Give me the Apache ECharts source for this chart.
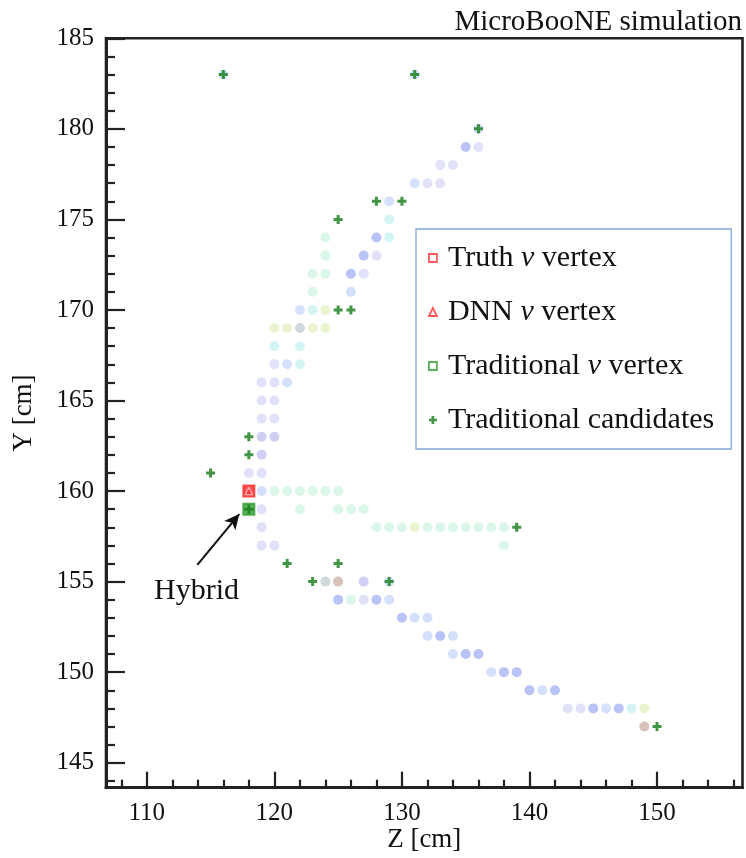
<!DOCTYPE html>
<html>
<head>
<meta charset="utf-8">
<title>MicroBooNE simulation - vertex</title>
<script src="https://cdn.jsdelivr.net/npm/echarts@6/dist/echarts.min.js"></script>
<style>
  html, body { margin: 0; padding: 0; background: #fff; }
  #chart { width: 746px; height: 858px; }
</style>
</head>
<body>
<div id="chart"></div>
<script>
// wire hits [Z, Y] in cm, grouped by the colour they show with
const blueHits = [[135, 179], [128, 174], [127, 173], [126, 172], [125, 154], [128, 154], [130, 153], [133, 152], [135, 151], [136, 151], [138, 150], [139, 150], [140, 149], [142, 149], [145, 148], [147, 148]]
const skyHits = [[116, 183], [131, 183], [136, 180], [131, 177], [129, 176], [126, 171], [122, 170], [121, 166], [121, 167], [119, 160], [129, 154], [131, 153], [132, 153], [132, 152], [134, 152], [134, 151], [137, 150], [141, 149], [146, 148], [129, 155]]
const lavenderHits = [[136, 179], [133, 178], [134, 178], [132, 177], [133, 177], [128, 173], [127, 172], [120, 167], [119, 166], [120, 166], [119, 165], [120, 165], [119, 164], [120, 164], [118, 161], [119, 161], [119, 159], [119, 158], [119, 157], [120, 157], [127, 154], [143, 148], [144, 148]]
const violetHits = [[119, 163], [120, 163], [119, 162], [127, 155]]
const cyanHits = [[129, 175], [129, 174], [123, 170], [120, 168], [122, 168], [122, 167], [148, 148]]
const mintHits = [[124, 174], [124, 173], [123, 172], [124, 172], [123, 171], [120, 160], [121, 160], [122, 160], [123, 160], [124, 160], [125, 160], [122, 159], [125, 159], [126, 159], [127, 159], [128, 158], [129, 158], [130, 158], [132, 158], [133, 158], [134, 158], [135, 158], [136, 158], [137, 158], [138, 158], [138, 157], [126, 154]]
const yellowHits = [[124, 170], [120, 169], [121, 169], [123, 169], [124, 169], [131, 158], [149, 148]]
const grayHits = [[122, 169], [124, 155]]
const brownHits = [[125, 155], [149, 147]]

// vertices
const truthVertex = [[118, 160]]
const dnnVertex = [[118, 160]]
const tradVertex = [[118, 159]]
const tradCandidates = [[116, 183], [131, 183], [136, 180], [128, 176], [130, 176], [125, 175], [125, 170], [126, 170], [118, 163], [118, 162], [115, 161], [118, 159], [139, 158], [121, 156], [125, 156], [123, 155], [129, 155], [150, 147]]

// axes
const zTicks = [110, 120, 130, 140, 150]
const yTicks = [145, 150, 155, 160, 165, 170, 175, 180, 185]
const zMinorTicks = [108, 112, 114, 116, 118, 122, 124, 126, 128, 132, 134, 136, 138, 142, 144, 146, 148, 152, 154, 156]
const yMinorTicks = [144, 146, 147, 148, 149, 151, 152, 153, 154, 156, 157, 158, 159, 161, 162, 163, 164, 166, 167, 168, 169, 171, 172, 173, 174, 176, 177, 178, 179, 181, 182, 183, 184]

// "Hybrid" note
const hybridText = [113.9, 154.5]
const hybridArrow = [[113.96, 155.92], [117.25, 158.73]]

const serif = '"Liberation Serif", "Times New Roman", serif'
const plusPath = 'path://M3,0H6V3H9V6H6V9H3V6H0V3H3Z'

const chart = echarts.init(document.getElementById('chart'))

const hitSeries = (data, color) => ({
  type: 'scatter',
  data: data,
  symbol: 'circle',
  symbolSize: 10,
  itemStyle: { color: color },
  silent: true,
  z: 2
})

const zAxisBase = {
  type: 'value',
  min: 106.8,
  max: 156.7,
  position: 'bottom',
  splitLine: { show: false }
}
const yAxisBase = {
  type: 'value',
  min: 143.62,
  max: 185,
  position: 'left',
  splitLine: { show: false }
}

const option = {
  animation: false,
  backgroundColor: '#fff',
  title: {
    text: 'MicroBooNE simulation',
    right: 4,
    top: 6,
    padding: 0,
    textStyle: { fontFamily: serif, fontSize: 29, fontWeight: 'normal', color: '#111', lineHeight: 32 }
  },
  grid: {
    left: 106,
    right: 3.5,
    top: 38.3,
    bottom: 70.3,
    outerBoundsMode: 'none',
    containLabel: false,
    show: true,
    borderColor: '#222',
    borderWidth: 2.6
  },
  legend: {
    orient: 'vertical',
    left: 416,
    top: 229,
    padding: [14, 17, 14, 12],
    itemWidth: 8,
    itemHeight: 8,
    itemGap: 24,
    borderColor: '#7fa8d8',
    borderWidth: 1.3,
    backgroundColor: '#fff',
    selectedMode: false,
    formatter: (name) => name.replace('ν', '{i|ν}'),
    textStyle: {
      fontFamily: serif,
      fontSize: 30,
      lineHeight: 30,
      color: '#111',
      padding: [0, 0, 0, 6],
      rich: { i: { fontFamily: serif, fontSize: 30, fontStyle: 'italic', color: '#111' } }
    },
    data: [
      { name: 'Truth ν vertex', icon: 'rect', itemStyle: { color: '#fff', borderColor: '#ff3030', borderWidth: 1.8 } },
      { name: 'DNN ν vertex', icon: 'triangle', itemStyle: { color: '#fff', borderColor: '#ff3030', borderWidth: 1.8 } },
      { name: 'Traditional ν vertex', icon: 'rect', itemStyle: { color: '#fff', borderColor: '#2e9a2e', borderWidth: 1.8 } },
      { name: 'Traditional candidates', icon: plusPath, itemStyle: { color: '#137a15', borderWidth: 0 } }
    ]
  },
  xAxis: [
    Object.assign({}, zAxisBase, {
      name: 'Z [cm]',
      nameLocation: 'middle',
      nameGap: 37,
      nameMoveOverlap: false,
      nameTextStyle: { fontFamily: serif, fontSize: 27, color: '#111', lineHeight: 30 },
      axisLine: { show: true, onZero: false, lineStyle: { color: '#222', width: 3 } },
      axisTick: { show: true, inside: true, length: 16, customValues: zTicks, lineStyle: { color: '#222', width: 2.2 } },
      axisLabel: { show: true, customValues: zTicks, margin: 13, fontFamily: serif, fontSize: 25, color: '#111' }
    }),
    Object.assign({}, zAxisBase, {
      axisLine: { show: false },
      axisTick: { show: true, inside: true, length: 8, customValues: zMinorTicks, lineStyle: { color: '#222', width: 2.2 } },
      axisLabel: { show: false }
    })
  ],
  yAxis: [
    Object.assign({}, yAxisBase, {
      name: 'Y [cm]',
      nameLocation: 'middle',
      nameGap: 67,
      nameMoveOverlap: false,
      nameTextStyle: { fontFamily: serif, fontSize: 27, color: '#111', lineHeight: 30 },
      axisLine: { show: true, onZero: false, lineStyle: { color: '#222', width: 3 } },
      axisTick: { show: true, inside: true, length: 19, customValues: yTicks, lineStyle: { color: '#222', width: 2.2 } },
      axisLabel: { show: true, customValues: yTicks, margin: 12, fontFamily: serif, fontSize: 25, color: '#111' }
    }),
    Object.assign({}, yAxisBase, {
      axisLine: { show: false },
      axisTick: { show: true, inside: true, length: 9, customValues: yMinorTicks, lineStyle: { color: '#222', width: 2.2 } },
      axisLabel: { show: false }
    })
  ],
  series: [
    hitSeries(mintHits, '#d2f5e3'),
    hitSeries(yellowHits, '#e5f2c4'),
    hitSeries(cyanHits, '#cbf3f3'),
    hitSeries(lavenderHits, '#dadaf9'),
    hitSeries(skyHits, '#cad9fb'),
    hitSeries(violetHits, '#c3c3f1'),
    hitSeries(blueHits, '#a9b4f5'),
    hitSeries(grayHits, '#c6d0d4'),
    hitSeries(brownHits, '#d0b2aa'),
    {
      name: 'Traditional ν vertex',
      type: 'scatter',
      data: tradVertex,
      symbol: 'rect',
      symbolSize: 11,
      itemStyle: { color: '#3aa53a', borderColor: '#2e9a2e', borderWidth: 2 },
      z: 4
    },
    {
      name: 'Truth ν vertex',
      type: 'scatter',
      data: truthVertex,
      symbol: 'rect',
      symbolSize: 11,
      itemStyle: { color: '#ff2a2a', borderColor: '#ff2a2a', borderWidth: 2 },
      z: 4
    },
    {
      name: 'DNN ν vertex',
      type: 'scatter',
      data: dnnVertex,
      symbol: 'triangle',
      symbolSize: 7,
      itemStyle: { color: '#ff2a2a', borderColor: '#ffd0d0', borderWidth: 1.2 },
      z: 5
    },
    {
      name: 'Traditional candidates',
      type: 'scatter',
      data: tradCandidates,
      symbol: plusPath,
      symbolSize: 9,
      itemStyle: { color: '#137a15' },
      z: 6
    },
    {
      name: 'hybrid-note',
      type: 'scatter',
      data: [hybridText],
      symbolSize: 1,
      itemStyle: { color: 'rgba(0,0,0,0)' },
      silent: true,
      label: {
        show: true,
        position: 'inside',
        formatter: 'Hybrid',
        fontFamily: serif,
        fontSize: 30,
        color: '#111',
        opacity: 1,
        textBorderWidth: 0
      },
      markLine: {
        silent: true,
        symbol: ['none', 'arrow'],
        symbolSize: [11, 15],
        label: { show: false },
        lineStyle: { color: '#111', width: 2, type: 'solid' },
        data: [[{ coord: hybridArrow[0] }, { coord: hybridArrow[1] }]]
      }
    }
  ]
}

chart.setOption(option)
</script>
</body>
</html>
